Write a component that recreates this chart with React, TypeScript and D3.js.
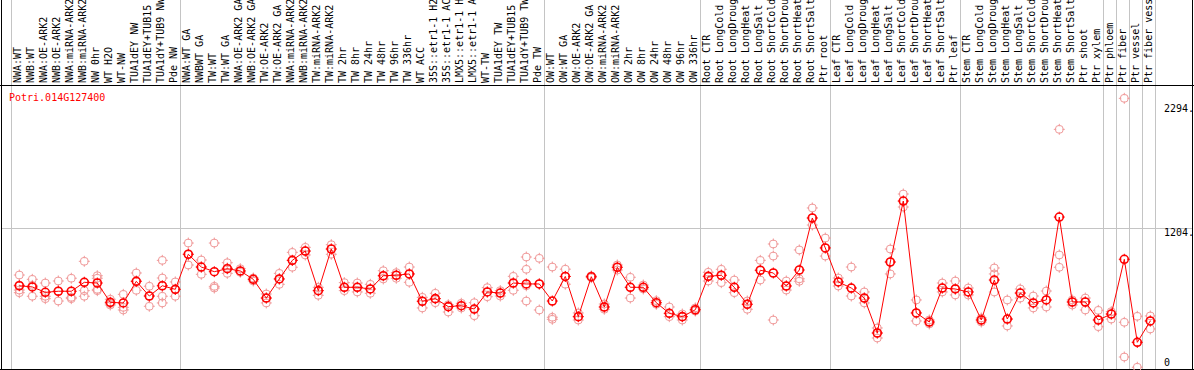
import React, { useEffect } from 'react';
import * as d3 from 'd3';

const title = 'Potri.014G127400';

const categories = [
  'NWA:WT', 'NWB:WT', 'NWA:OE-ARK2', 'NWB:OE-ARK2', 'NWA:miRNA-ARK2', 'NWB:miRNA-ARK2', 'NW 0hr', 'WT H2O', 'WT-NW',
  'TUA1dEY NW', 'TUA1dEY+TUB15 NW', 'TUA1dY+TUB9 NW', 'Pde NW',
  'NWA:WT GA', 'NWBWT GA', 'TW:WT', 'TW:WT GA', 'NWA:OE-ARK2 GA', 'NWB:OE-ARK2 GA', 'TW:OE-ARK2', 'TW:OE-ARK2 GA',
  'NWA:miRNA-ARK2 GA', 'NWB:miRNA-ARK2 GA', 'TW:miRNA-ARK2', 'TW:miRNA-ARK2 GA',
  'TW 2hr', 'TW 8hr', 'TW 24hr', 'TW 48hr', 'TW 96hr', 'TW 336hr', 'WT ACC',
  '35S::etr1-1 H2O', '35S::etr1-1 ACC', 'LMX5::etr1-1 H2O', 'LMX5::etr1-1 ACC',
  'WT-TW', 'TUA1dEY TW', 'TUA1dEY+TUB15 TW', 'TUA1dY+TUB9 TW', 'Pde TW',
  'OW:WT', 'OW:WT GA', 'OW:OE-ARK2', 'OW:OE-ARK2 GA', 'OW:miRNA-ARK2', 'OW:miRNA-ARK2 GA',
  'OW 2hr', 'OW 8hr', 'OW 24hr', 'OW 48hr', 'OW 96hr', 'OW 336hr',
  'Root CTR', 'Root LongCold', 'Root LongDrought', 'Root LongHeat', 'Root LongSalt',
  'Root ShortCold', 'Root ShortDrought', 'Root ShortHeat', 'Root ShortSalt', 'Ptr root',
  'Leaf CTR', 'Leaf LongCold', 'Leaf LongDrought', 'Leaf LongHeat', 'Leaf LongSalt',
  'Leaf ShortCold', 'Leaf ShortDrought', 'Leaf ShortHeat', 'Leaf ShortSalt', 'Ptr leaf',
  'Stem CTR', 'Stem LongCold', 'Stem LongDrought', 'Stem LongHeat', 'Stem LongSalt',
  'Stem ShortCold', 'Stem ShortDrought', 'Stem ShortHeat', 'Stem ShortSalt', 'Ptr shoot',
  'Ptr xylem', 'Ptr phloem', 'Ptr fiber', 'Ptr vessel', 'Ptr fiber vessel',
];

const meanValues = [
  722, 712, 667, 676, 676, 751, 745, 583, 578, 759, 636, 722, 692,
  986, 879, 840, 865, 846, 776, 619, 779, 935, 1013, 681, 1030,
  709, 709, 695, 806, 810, 821, 592, 614, 547, 555, 527, 670, 661, 745, 737, 737,
  594, 800, 463, 798, 544, 877, 709, 709, 580, 491, 463, 521,
  801, 810, 709, 567, 852, 829, 720, 854, 1290, 1039,
  754, 703, 619, 326, 921, 1432, 494, 418, 703, 695,
  670, 435, 770, 443, 661, 578, 603, 1298, 586, 586,
  435, 485, 944, 248, 427,
];

const replicateValues = [
  [812, 686, 664, 728], [776, 634, 725], [745, 634, 614], [762, 594, 677], [785, 625, 614],
  [927, 681, 634, 751], [806, 785, 692, 681], [609, 572, 561], [650, 541, 519], [829, 684, 762],
  [718, 550, 636], [935, 787, 634, 578], [754, 634, 692],
  [1080, 896, 986], [938, 818, 879], [1080, 717, 703], [915, 826, 871], [865, 835, 846],
  [787, 762, 776], [653, 578, 619], [826, 734, 779], [1002, 877, 935], [1044, 980, 1013],
  [709, 642, 681], [1066, 986, 1030],
  [748, 681, 709], [745, 670, 709], [734, 659, 695], [848, 779, 806], [832, 785, 810],
  [879, 751, 821], [625, 536, 592], [659, 580, 614], [563, 502, 547], [575, 536, 555],
  [580, 471, 527], [706, 630, 670], [681, 636, 661], [801, 684, 745], [963, 860, 722, 594],
  [952, 519, 737],
  [879, 458, 441], [861, 735, 800], [435, 494, 463], [805, 790], [569, 525, 544], [896, 854, 877],
  [793, 619, 709], [728, 695, 709], [597, 567, 580], [544, 463, 491], [485, 435, 463], [536, 510, 521],
  [835, 762, 801], [860, 748, 810], [770, 664, 709], [525, 594, 567], [935, 770, 852],
  [1072, 971, 435], [762, 686, 720], [1022, 780, 760], [1374, 1231, 1290], [1122, 971, 1039],
  [787, 720, 754], [879, 636, 703], [670, 578, 619], [368, 284, 326], [1030, 821, 921],
  [1491, 1382, 1432], [603, 427, 494], [435, 402, 418], [745, 670, 703], [762, 645, 695],
  [703, 645, 670], [452, 418, 435], [871, 821, 670], [603, 385, 443], [695, 619, 661],
  [636, 536, 578], [678, 544, 603], [2033, 980, 877], [603, 561, 586], [619, 519, 586],
  [516, 379, 435], [505, 443, 485], [2293, 416, 125], [466, 39, 248], [469, 360, 427],
];

// indices (number of categories before the line) of the vertical separators
const groupBreaks = [0, 13, 41, 53, 63, 73, 84, 85, 86, 87, 88];

const axisTicks = [
  { value: 2294, label: '2294.', grid: false },
  { value: 1204, label: '1204.', grid: true },
  { value: 0, label: '0', grid: false },
];

const W = 1194;
const H = 370;
const FONT = '"DejaVu Sans Mono", "Liberation Mono", monospace';

function Marker({ cx, cy, color, sw }: { cx: number; cy: number; color: string; sw: number }) {
  const r = 4;
  return (
    <g>
      <circle cx={cx} cy={cy} r={r} fill="none" stroke={color} strokeWidth={sw} />
      <line x1={cx} x2={cx} y1={cy - r - 1.5} y2={cy - r + 1} stroke={color} strokeWidth={1} />
      <line x1={cx} x2={cx} y1={cy + r - 1} y2={cy + r + 1.5} stroke={color} strokeWidth={1} />
      <line x1={cx - r - 1.5} x2={cx - r + 1} y1={cy} y2={cy} stroke={color} strokeWidth={1} />
      <line x1={cx + r - 1} x2={cx + r + 1.5} y1={cy} y2={cy} stroke={color} strokeWidth={1} />
    </g>
  );
}

export default function App() {
  useEffect(() => {
    document.body.style.margin = '0';
  }, []);

  const n = categories.length;
  const x = d3.scaleLinear().domain([0, n]).range([10.7, 1154.7]);
  const y = d3.scaleLinear().domain([0, 2294]).range([371.9, 98.2]);

  const pointX = (i: number) => x(i) + 8.6;
  const labelX = (i: number) => x(i) + 7.1;

  const line = d3
    .line<number>()
    .x((_, i) => pointX(i))
    .y((d) => y(d));

  const plotTop = 85.5;
  const plotBottom = 369.5;

  return (
    <svg
      width={W}
      height={H}
      style={{ position: 'absolute', left: 0, top: 0, display: 'block', background: '#fff' }}
      fontFamily={FONT}
    >
      <rect x={0} y={0} width={W} height={H} fill="#fff" />
      {/* vertical separators */}
      {groupBreaks.map((b) => (
        <line
          key={'g' + b}
          x1={Math.round(x(b)) + 0.5}
          x2={Math.round(x(b)) + 0.5}
          y1={0}
          y2={plotBottom}
          stroke="#c4c4c4"
          strokeWidth={1}
        />
      ))}
      {/* horizontal grid */}
      {axisTicks
        .filter((t) => t.grid)
        .map((t) => (
          <line
            key={'h' + t.value}
            x1={1.5}
            x2={W - 1.5}
            y1={Math.round(y(t.value)) + 0.5}
            y2={Math.round(y(t.value)) + 0.5}
            stroke="#c4c4c4"
            strokeWidth={1}
          />
        ))}
      {/* category labels */}
      {categories.map((c, i) => (
        <text
          key={'l' + i}
          transform={`translate(${labelX(i)},83) rotate(-90)`}
          dy="0.33em"
          fontSize={10}
          fill="#000"
        >
          {c}
        </text>
      ))}
      {/* frame */}
      <line x1={0} x2={W} y1={plotTop} y2={plotTop} stroke="#000" strokeWidth={1} />
      <line x1={0} x2={W} y1={plotBottom} y2={plotBottom} stroke="#000" strokeWidth={1} />
      <line x1={1.5} x2={1.5} y1={0} y2={H} stroke="#000" strokeWidth={1} />
      <line x1={W - 1.5} x2={W - 1.5} y1={0} y2={H} stroke="#000" strokeWidth={1} />

      {/* title */}
      <text x={9} y={97} dy="0.35em" fontSize={10} fill="#ff0000">
        {title}
      </text>

      {/* axis labels */}
      {axisTicks.map((t) => (
        <text
          key={'a' + t.value}
          x={1164}
          y={Math.min(358, Math.max(104, y(t.value))) + 4}
          dy="0.35em"
          fontSize={10}
          fill="#000"
        >
          {t.label}
        </text>
      ))}

      {/* replicates */}
      {replicateValues.map((reps, i) =>
        reps.map((v, j) => (
          <Marker key={'r' + i + '-' + j} cx={pointX(i)} cy={y(v)} color="#f09a9a" sw={1} />
        ))
      )}
      {/* mean line */}
      <path d={line(meanValues) || ''} fill="none" stroke="#ff0000" strokeWidth={1} />
      {/* means */}
      {meanValues.map((v, i) => (
        <Marker key={'m' + i} cx={pointX(i)} cy={y(v)} color="#ff0000" sw={1.6} />
      ))}
    </svg>
  );
}
